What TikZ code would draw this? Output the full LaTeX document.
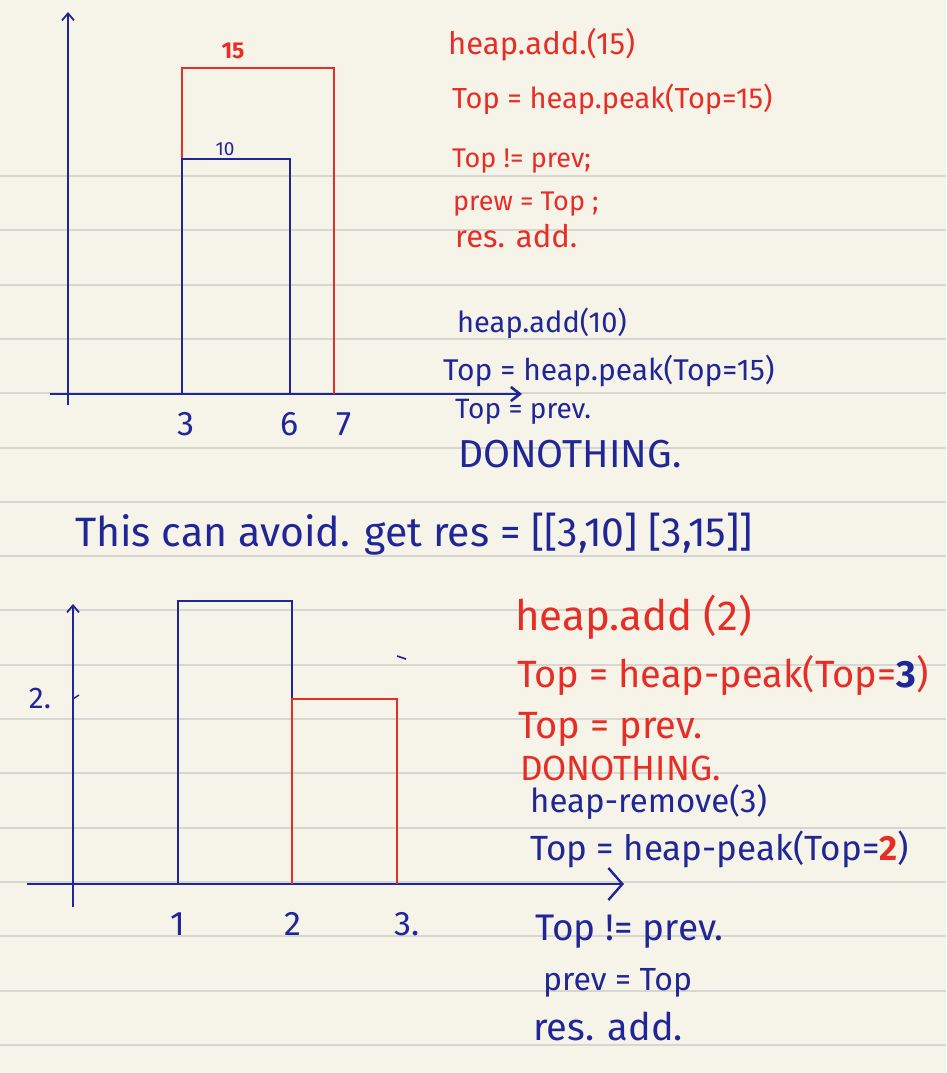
\documentclass[tikz,border=0pt]{standalone}
\usepackage{fontspec}
\newfontfamily\hand{Fira Sans}
\usetikzlibrary{arrows.meta}

\definecolor{paper}{RGB}{246,244,233}
\definecolor{ruling}{RGB}{215,215,210}
\definecolor{inkred}{RGB}{230,46,38}
\definecolor{inkblue}{RGB}{32,38,150}

\newcommand\fs[1]{\hand\fontsize{#1}{#1}\selectfont}

\tikzset{
  ruleline/.style={ruling, line width=2},
  axis/.style={inkblue, line width=1.8},
  redbar/.style={inkred, line width=1.6},
  bluebar/.style={inkblue, line width=1.6},
  note/.style={anchor=base west, inner sep=0pt, font=\fs{29}},
  rednote/.style={note, text=inkred},
  bluenote/.style={note, text=inkblue},
  ticklabel/.style={anchor=base, inner sep=0pt, text=inkblue, font=\fs{34}},
}

\begin{document}
\begin{tikzpicture}[x=1pt, y=-1pt, >={Straight Barb[length=7pt,width=12pt]}]

  % paper and ruled lines
  \fill[paper] (0,0) rectangle (946,1073);
  \useasboundingbox (0,0) rectangle (946,1073);
  \foreach \k in {0,...,16}
    \draw[ruleline] (0,{176+54.3*\k}) -- (946,{176+54.3*\k});

  %=====================================================================
  % Top: heights 10 and 15 starting at 3
  %=====================================================================
  \begin{scope}
    % axes
    \draw[axis,->] (68,405) -- (68,12);
    \draw[axis,line width=2.6,-{Straight Barb[length=9pt,width=14pt]}] (50,394) -- (522,394);
    % bars
    \draw[redbar] (182,394) -- (182,68) -- (334,68) -- (334,394);
    \draw[bluebar] (182,394) -- (182,159) -- (290,159) -- (290,394);
    \node[anchor=base, inner sep=0pt, text=inkred, font=\fs{23}\bfseries] (h15) at (233,59) {15};
    \node[anchor=base, inner sep=0pt, text=inkblue, font=\fs{19}] (h10) at (225,155) {10};
    % x labels
    \node[ticklabel] (x3) at (186,435) {3};
    \node[ticklabel] (x6) at (290,435) {6};
    \node[ticklabel] (x7) at (344,435) {7};

    % steps
    \node[rednote, font=\fs{31}] (a1) at (448,55) {heap.add.(15)};
    \node[rednote] (a2) at (452,108) {Top = heap.peak(Top=15)};
    \node[rednote, font=\fs{27}] (a3) at (452,167) {Top != prev;};
    \node[rednote, font=\fs{27}] (a4) at (453,210) {prew = Top ;};
    \node[rednote, font=\fs{31}] (a5) at (455,247) {res. add.};
    \node[bluenote] (b1) at (457,332) {heap.add(10)};
    \node[bluenote, font=\fs{30}] (b2) at (443,380) {Top = heap.peak(Top=15)};
    \node[bluenote, font=\fs{28}] (b3) at (455,418) {Top = prev.};
    \node[bluenote, font=\fs{39}] (b4) at (458,467) {DONOTHING.};
  \end{scope}

  % remark in the middle
  \node[bluenote, font=\fs{41}] (remark) at (75,546)
    {This can avoid. get res = [[3,10] [3,15]]};

  %=====================================================================
  % Bottom: height 2 from 1 to 2, height 1 from 2 to 3
  %=====================================================================
  \begin{scope}
    % axes
    \draw[axis,->] (73,907) -- (73,604);
    \draw[axis,line width=2.4,-{Straight Barb[length=14pt,width=32pt]}] (27,884) -- (624,884);
    \draw[axis,line width=1.5] (73,699) -- (79,695);
    \node[anchor=base, inner sep=0pt, text=inkblue, font=\fs{30}] (y2) at (40,708) {2.};
    \draw[inkblue, line width=1.6] (397,656) -- (406,659);
    % bars
    \draw[bluebar] (178,884) -- (178,601) -- (292,601) -- (292,884);
    \draw[redbar] (292,884) -- (292,699) -- (397,699) -- (397,884);
    % x labels
    \node[ticklabel] (x1) at (178,935) {1};
    \node[ticklabel] (x2) at (293,935) {2};
    \node[ticklabel] (x3b) at (407,935) {3.};

    % steps
    \node[rednote, font=\fs{42}] (c1) at (515,630) {heap.add (2)};
    \node[rednote, font=\fs{38}] (c2) at (517,687) {Top = heap-peak(Top=\textcolor{inkblue}{\bfseries 3})};
    \node[rednote, font=\fs{38}] (c3) at (518,738) {Top = prev.};
    \node[rednote, font=\fs{35}] (c4) at (520,780) {DONOTHING.};
    \node[bluenote, font=\fs{33}] (d1) at (530,812) {heap-remove(3)};
    \node[bluenote, font=\fs{35}] (d2) at (530,860) {Top = heap-peak(Top=\textcolor{inkred}{\bfseries 2})};
    \node[bluenote, font=\fs{37}] (d3) at (535,940) {Top != prev.};
    \node[bluenote, font=\fs{32}] (d4) at (543,990) {prev = Top};
    \node[bluenote, font=\fs{38}] (d5) at (533,1040) {res. add.};
  \end{scope}

\end{tikzpicture}
\end{document}
